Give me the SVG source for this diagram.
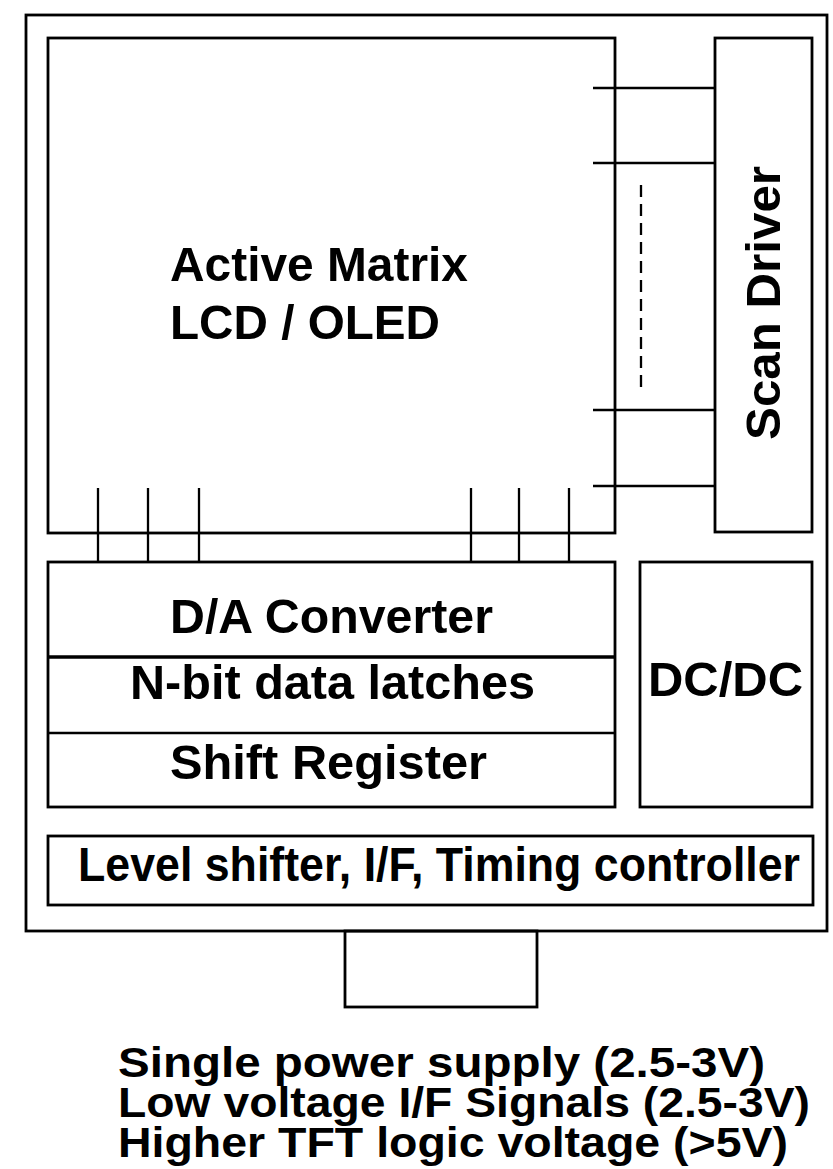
<svg xmlns="http://www.w3.org/2000/svg" width="833" height="1169" viewBox="0 0 833 1169">
<style>
.box{fill:none;stroke:#000;stroke-width:2.8}
.ln{stroke:#000;stroke-width:2.3;fill:none}
.lbl{font-family:"Liberation Sans",Arial,Helvetica,sans-serif;font-weight:bold;font-size:49px;fill:#000}
.cap{font-family:"Liberation Sans",Arial,Helvetica,sans-serif;font-weight:bold;font-size:43px;fill:#000}
</style>
<rect width="833" height="1169" fill="#fff"/>
<g id="panel">
<rect class="box" x="26" y="15" width="801" height="916"/>
</g>
<g id="active-matrix">
<rect class="box" x="48" y="38" width="567" height="495"/>
<text class="lbl" x="170" y="281" font-size="51" textLength="298" lengthAdjust="spacingAndGlyphs">Active Matrix</text>
<text class="lbl" x="170" y="339" font-size="51" textLength="270" lengthAdjust="spacingAndGlyphs">LCD / OLED</text>
</g>
<g id="scan-driver">
<rect class="box" x="715" y="38" width="97" height="494"/>
<text class="lbl" transform="translate(780,303) rotate(-90)" text-anchor="middle" font-size="50" textLength="274" lengthAdjust="spacingAndGlyphs">Scan Driver</text>
</g>
<g id="data-driver">
<rect class="box" x="48" y="562" width="567" height="245"/>
<line x1="48" y1="657" x2="615" y2="657" stroke="#000" stroke-width="3.4"/>
<line class="ln" x1="48" y1="733" x2="615" y2="733"/>
</g>
<g id="da-converter">
<text class="lbl" x="170" y="633" textLength="323" lengthAdjust="spacingAndGlyphs">D/A Converter</text>
</g>
<g id="data-latches">
<text class="lbl" x="130" y="699" textLength="405" lengthAdjust="spacingAndGlyphs">N-bit data latches</text>
</g>
<g id="shift-register">
<text class="lbl" x="170" y="779" textLength="317" lengthAdjust="spacingAndGlyphs">Shift Register</text>
</g>
<g id="dcdc">
<rect class="box" x="640" y="562" width="172" height="245"/>
<text class="lbl" x="648" y="696" textLength="155" lengthAdjust="spacingAndGlyphs">DC/DC</text>
</g>
<g id="level-shifter">
<rect class="box" x="48" y="836" width="765" height="69"/>
<text class="lbl" x="78" y="881" font-size="44" textLength="722" lengthAdjust="spacingAndGlyphs">Level shifter, I/F, Timing controller</text>
</g>
<g id="connector">
<rect class="box" x="345" y="931" width="192" height="76"/>
</g>
<g id="caption">
<text class="cap" x="118" y="1077" textLength="647" lengthAdjust="spacingAndGlyphs">Single power supply (2.5-3V)</text>
<text class="cap" x="118" y="1117" textLength="692" lengthAdjust="spacingAndGlyphs">Low voltage I/F Signals (2.5-3V)</text>
<text class="cap" x="118" y="1157" textLength="670" lengthAdjust="spacingAndGlyphs">Higher TFT logic voltage (&gt;5V)</text>
</g>
<g id="connectors">
<line class="ln" x1="593" y1="88" x2="715" y2="88"/>
<line class="ln" x1="593" y1="163" x2="715" y2="163"/>
<line class="ln" x1="593" y1="410" x2="715" y2="410"/>
<line class="ln" x1="593" y1="486" x2="715" y2="486"/>
<line class="ln" x1="641" y1="185" x2="641" y2="388" stroke-dasharray="12 7"/>
<line class="ln" x1="98" y1="488" x2="98" y2="562"/>
<line class="ln" x1="148" y1="488" x2="148" y2="562"/>
<line class="ln" x1="199" y1="488" x2="199" y2="562"/>
<line class="ln" x1="471" y1="488" x2="471" y2="562"/>
<line class="ln" x1="519" y1="488" x2="519" y2="562"/>
<line class="ln" x1="569" y1="488" x2="569" y2="562"/>
</g>
</svg>
